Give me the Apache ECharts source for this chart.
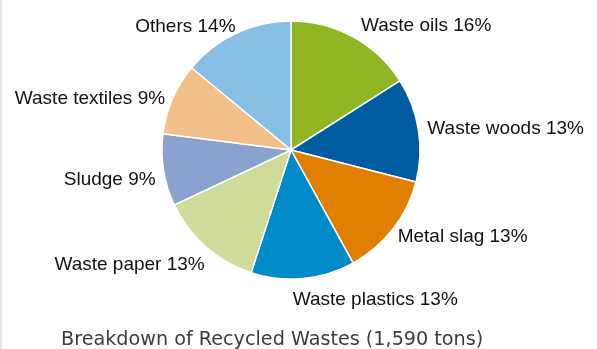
<!DOCTYPE html>
<html>
<head>
<meta charset="utf-8">
<script src="https://cdn.jsdelivr.net/npm/echarts@6/dist/echarts.min.js"></script>
<style>
  html, body { margin: 0; padding: 0; background: #fff; }
  #main { width: 597px; height: 349px; }
</style>
</head>
<body>
<div id="main"></div>
<script>
var chartDom = document.getElementById('main');
var myChart = echarts.init(chartDom, null, { renderer: 'canvas' });

// shares of recycled wastes (%), clockwise from 12 o'clock
var names = ['Waste oils', 'Waste woods', 'Metal slag', 'Waste plastics',
             'Waste paper', 'Sludge', 'Waste textiles', 'Others'];
var values = [16, 13, 13, 13, 13, 9, 9, 14];
var colors = ['#8fb521', '#005ca0', '#e07f00', '#008bc8',
              '#cfdb98', '#8aa2cd', '#f0c088', '#86bfe3'];
var titleText = 'Breakdown of Recycled Wastes (1,590 tons)';

// small hand nudges so labels sit where the original put them
var labelNudge = [[3, -6], [1, 0], [-2, 4], [-13, 15],
                  [5, 14], [0, 9], [0, 2], [4, -1]];

var pieData = names.map(function (n, i) {
    return { name: n, value: values[i], itemStyle: { color: colors[i] } };
});

var option = {
    animation: false,
    backgroundColor: '#ffffff',
    textStyle: {
        fontFamily: '"Liberation Sans", Arial, sans-serif'
    },
    title: {
        text: titleText,
        left: 56,
        top: 326,
        textStyle: {
            fontSize: 19.2,
            fontWeight: 'normal',
            color: '#3c3c3c',
            fontFamily: '"DejaVu Sans", sans-serif'
        }
    },
    graphic: [{
        type: 'line',
        shape: { x1: 1, y1: 0, x2: 1, y2: 349 },
        style: { stroke: '#e4e4e4', lineWidth: 2 }
    }],
    series: [
    {
        type: 'pie',
        center: [291, 150],
        radius: [0, 129],
        startAngle: 90,
        clockwise: true,
        itemStyle: {
            borderColor: '#ffffff',
            borderWidth: 1.5
        },
        label: {
            show: true,
            position: 'outside',
            formatter: '{b} {c}%',
            fontSize: 19,
            color: '#111111',
            distanceToLabelLine: 2
        },
        labelLine: {
            show: false,
            length: 6,
            length2: 0
        },
        labelLayout: function (params) {
            var n = labelNudge[params.dataIndex];
            return { dx: n[0], dy: n[1] };
        },
        data: pieData
    }
    ]
};

myChart.setOption(option);
</script>
</body>
</html>
